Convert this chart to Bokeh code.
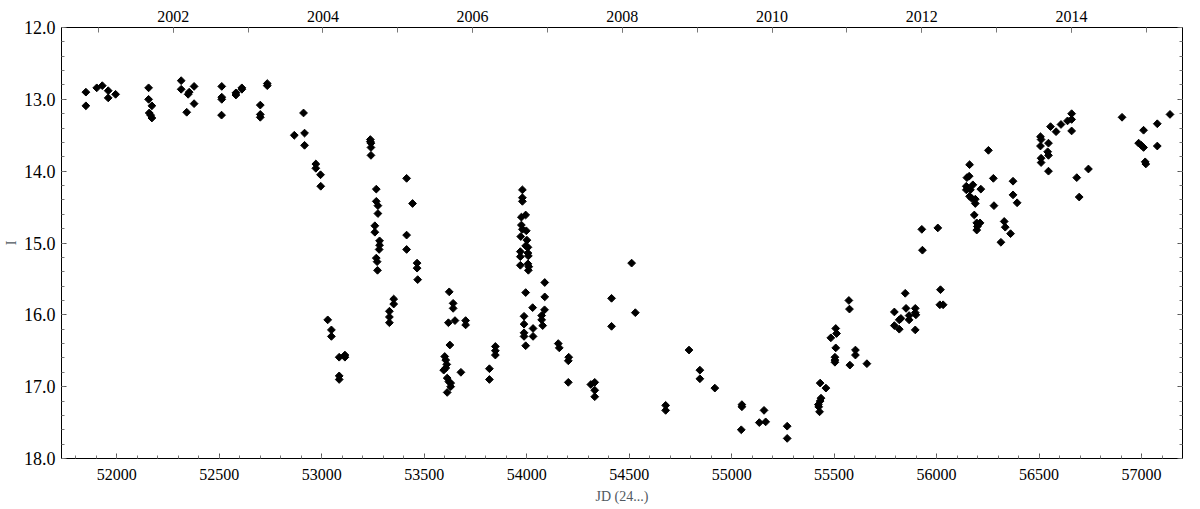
import math
from bokeh.plotting import figure
from bokeh.models import (Range1d, LinearAxis, FixedTicker, NumeralTickFormatter,
                          CustomJSTickFormatter)
from bokeh.embed import file_html
from bokeh.resources import INLINE

# ---- data ----
jd = [51849, 51849, 51902, 51929, 51958, 51958, 51994,
      52155, 52155, 52171, 52158, 52165, 52171,
      52314, 52314, 52353, 52348, 52377, 52341, 52377,
      52512, 52512, 52512, 52511, 52581, 52581, 52610, 52610,
      52700, 52700, 52700, 52734, 52734,
      52866, 52911, 52916, 52916, 52971, 52971, 52994, 52995,
      53029, 53047, 53047, 53085, 53113, 53113, 53085, 53085,
      53237, 53237, 53240, 53240, 53240, 53266, 53266, 53274, 53274, 53259, 53259,
      53282, 53282, 53280, 53266, 53270, 53272,
      53414, 53443, 53414, 53414, 53465, 53465, 53468, 53351, 53351,
      53330, 53330, 53330,
      53622, 53641, 53641, 53618, 53650, 53702, 53702, 53625, 53600, 53605, 53610,
      53605, 53595, 53612, 53620, 53629, 53629, 53612, 53679,
      53818, 53818, 53847, 53847, 53847,
      53979, 53979, 53979, 53974, 53995, 53974, 53979, 53998, 53971, 54001, 53995,
      54006, 53969, 53969, 54006, 54008, 53969, 54006, 54010, 54008, 54088, 53995,
      54088, 54029, 54087, 53987, 54073, 54073, 54078, 53987, 54031, 53987, 53987,
      54031, 53995, 54154, 54159, 54205, 54203, 54203,
      54313, 54332, 54332, 54332, 54414, 54414, 54512, 54530,
      54678, 54678, 54792, 54845, 54845, 54918,
      55050, 55050, 55047, 55158, 55135, 55166, 55271, 55271,
      55432, 55460, 55436, 55432, 55423, 55425, 55429,
      55508, 55512, 55484, 55508, 55504, 55504, 55504,
      55572, 55575, 55604, 55604, 55577, 55660,
      55794, 55794, 55818, 55847, 55851, 55818, 55826, 55866, 55866, 55896, 55896,
      55899, 55896, 55931, 56019, 56016, 56032,
      55928, 56006, 56253, 56161, 56148, 56159, 56145, 56145, 56165, 56177, 56216,
      56161, 56172, 56189, 56189, 56277, 56280, 56184, 56196, 56212, 56199, 56196,
      56373, 56373, 56393, 56330, 56335, 56361, 56314,
      56507, 56510, 56507, 56510, 56510, 56542, 56546, 56546, 56546, 56556, 56583,
      56607, 56639, 56659, 56659, 56659, 56684, 56696, 56741, 56905, 57010, 56986,
      56999, 57010, 57018, 57021, 57077, 57077, 57139]

mag = [12.90, 13.09, 12.84, 12.81, 12.88, 12.98, 12.93,
       12.84, 13.00, 13.09, 13.19, 13.22, 13.26,
       12.74, 12.86, 12.90, 12.93, 12.82, 13.18, 13.06,
       12.82, 12.97, 13.00, 13.22, 12.91, 12.94, 12.84, 12.86,
       13.08, 13.21, 13.25, 12.78, 12.81,
       13.50, 13.19, 13.47, 13.64, 13.90, 13.96, 14.05, 14.21,
       16.07, 16.21, 16.30, 16.59, 16.59, 16.56, 16.85, 16.90,
       13.56, 13.59, 13.61, 13.67, 13.78, 14.25, 14.42, 14.48, 14.59, 14.76, 14.85,
       14.97, 15.03, 15.09, 15.21, 15.26, 15.38,
       14.10, 14.45, 14.89, 15.09, 15.28, 15.35, 15.51, 15.78, 15.85,
       15.95, 16.03, 16.11,
       15.68, 15.84, 15.91, 16.11, 16.08, 16.08, 16.14, 16.42, 16.58, 16.63, 16.69,
       16.74, 16.77, 16.88, 16.93, 16.95, 17.00, 17.08, 16.80,
       16.75, 16.90, 16.44, 16.50, 16.56,
       14.26, 14.37, 14.42, 14.64, 14.61, 14.75, 14.81, 14.83, 14.91, 14.96, 15.04,
       15.06, 15.12, 15.19, 15.14, 15.18, 15.31, 15.29, 15.33, 15.38, 15.55, 15.69,
       15.75, 15.90, 15.93, 16.02, 16.01, 16.07, 16.15, 16.13, 16.19, 16.25, 16.30,
       16.30, 16.43, 16.40, 16.46, 16.59, 16.64, 16.94,
       16.97, 16.94, 17.05, 17.14, 15.77, 16.16, 15.28, 15.97,
       17.26, 17.33, 16.49, 16.77, 16.89, 17.02,
       17.25, 17.28, 17.60, 17.33, 17.50, 17.49, 17.55, 17.72,
       16.95, 17.02, 17.16, 17.20, 17.25, 17.28, 17.35,
       16.19, 16.26, 16.32, 16.46, 16.59, 16.63, 16.66,
       15.80, 15.92, 16.49, 16.56, 16.70, 16.68,
       15.96, 16.15, 16.20, 15.70, 15.91, 16.07, 16.05, 16.01, 16.07, 15.91, 15.97,
       16.00, 16.21, 15.10, 15.65, 15.86, 15.86,
       14.81, 14.79, 13.71, 13.91, 14.09, 14.07, 14.21, 14.26, 14.26, 14.19, 14.25,
       14.35, 14.38, 14.39, 14.45, 14.10, 14.48, 14.61, 14.72, 14.72, 14.77, 14.82,
       14.14, 14.33, 14.44, 14.70, 14.78, 14.87, 14.99,
       13.52, 13.56, 13.65, 13.82, 13.88, 13.73, 13.78, 13.61, 14.00, 13.38, 13.45,
       13.35, 13.30, 13.28, 13.20, 13.44, 14.09, 14.36, 13.97, 13.25, 13.43, 13.61,
       13.64, 13.67, 13.87, 13.90, 13.34, 13.65, 13.21]

jd_ticks = [52000, 52500, 53000, 53500, 54000, 54500, 55000, 55500, 56000, 56500, 57000]
mag_ticks = [12, 13, 14, 15, 16, 17, 18]
year_labels = [2002, 2004, 2006, 2008, 2010, 2012, 2014]
year_minor = list(range(2001, 2016))

# ---- layout ----
X0, X1 = 51730, 57200
JD2000 = 51544.5  # JD-2400000 of 2000 Jan 1.0

def to_year(x):
    return 2000 + (x - JD2000) / 365.25

FONT = "Liberation Serif"

p = figure(width=1184, height=508, output_backend="svg", toolbar_location=None,
           x_range=Range1d(X0, X1), y_range=Range1d(18, 12),
           x_axis_location=None, y_axis_location=None,
           min_border_left=54, min_border_right=2, min_border_top=27, min_border_bottom=50)
p.extra_x_ranges = {"year": Range1d(to_year(X0), to_year(X1))}
p.xgrid.visible = False
p.ygrid.visible = False
p.outline_line_color = "black"
p.outline_line_width = 1
p.background_fill_color = "white"
p.border_fill_color = "white"


def style(ax, size):
    ax.major_tick_in = 5
    ax.major_tick_out = 0
    ax.minor_tick_in = 3
    ax.minor_tick_out = 0
    ax.axis_line_color = "black"
    ax.major_tick_line_color = "#555555"
    ax.minor_tick_line_color = "#777777"
    ax.major_label_text_font = FONT
    ax.major_label_text_font_size = size
    ax.major_label_text_color = "black"
    ax.axis_label_text_font = FONT
    ax.axis_label_text_font_style = "normal"
    ax.axis_label_text_font_size = "14px"
    ax.axis_label_text_color = "#505860"

bottom = LinearAxis(axis_label="JD (24...)",
                    ticker=FixedTicker(ticks=jd_ticks,
                                       minor_ticks=list(range(51800, 57201, 100))),
                    formatter=NumeralTickFormatter(format="0"))
style(bottom, "16px")
bottom.major_label_standoff = 10
bottom.axis_label_standoff = 6
p.add_layout(bottom, "below")

left = LinearAxis(axis_label="I",
                  ticker=FixedTicker(ticks=mag_ticks,
                                     minor_ticks=[12 + 0.2 * i for i in range(31)]),
                  formatter=NumeralTickFormatter(format="0.0"))
style(left, "18px")
left.major_label_standoff = 6
left.axis_label_standoff = 2
p.add_layout(left, "left")

top = LinearAxis(x_range_name="year",
                 ticker=FixedTicker(ticks=year_labels, minor_ticks=year_minor),
                 formatter=NumeralTickFormatter(format="0"))
style(top, "16px")
top.minor_tick_in = 5
top.major_label_standoff = 6
p.add_layout(top, "above")

right = LinearAxis(ticker=FixedTicker(ticks=mag_ticks,
                                      minor_ticks=[12 + 0.2 * i for i in range(31)]),
                   formatter=CustomJSTickFormatter(code="return ''"),
                   major_label_standoff=0)
style(right, "10px")
p.add_layout(right, "right")

p.scatter(jd, mag, marker="square", angle=math.pi / 4, size=5.5, color="black")

open("out.html", "w").write(file_html(p, INLINE))
